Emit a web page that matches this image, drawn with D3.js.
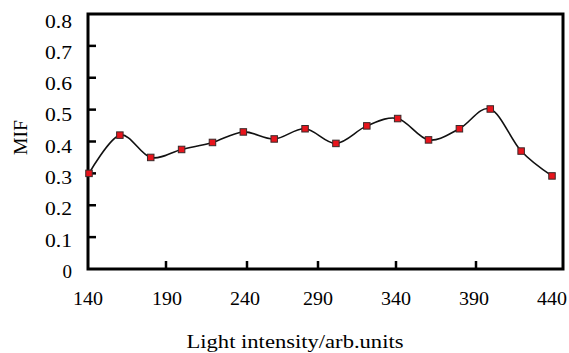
<!DOCTYPE html>
<html>
<head>
<meta charset="utf-8">
<script src="https://cdn.jsdelivr.net/npm/d3@7"></script>
<style>
  html, body { margin: 0; padding: 0; background: #fff; }
  svg { display: block; }
  text { font-family: "Liberation Serif", "DejaVu Serif", serif; fill: #000; }
</style>
</head>
<body>
<div id="chart"></div>
<script>
// ---- data ----
const lightIntensity = [140, 160, 180, 200, 220, 240, 260, 280, 300, 320, 340, 360, 380, 400, 420, 440];
const mifValues      = [0.30, 0.42, 0.35, 0.375, 0.397, 0.43, 0.408, 0.44, 0.394, 0.449, 0.472, 0.405, 0.44, 0.502, 0.37, 0.292];
const xTickLabels = [140, 190, 240, 290, 340, 390, 440];
const yTickLabels = [0, 0.1, 0.2, 0.3, 0.4, 0.5, 0.6, 0.7, 0.8];
const xTitle = "Light intensity/arb.units";
const yTitle = "MIF";

// ---- layout ----
const W = 569, H = 353;
const plotL = 88, plotR = 563, plotT = 14, plotB = 269;
const fs = 19;

const svg = d3.select("#chart").append("svg").attr("width", W).attr("height", H);

// data scales
const x = d3.scaleLinear().domain([140, 440]).range([89, 552]);
const y = d3.scaleLinear().domain([0, 0.8]).range([plotB, plotT]);

// axis scales (reference axis is not evenly spaced)
const xTickPos = d3.scaleLinear().domain(xTickLabels).range([plotL, 166, 247, 318, 396, 476, plotR]);
const xLabelPos = d3.scaleLinear().domain(xTickLabels).range([88, 167, 245, 318, 396, 474, 552]);
const yLabelPos = d3.scaleLinear().domain([0, 0.8]).range([271.5, 21]);

// inner ticks
const g = svg.append("g");
g.selectAll(".yt").data(yTickLabels.slice(1, -1)).enter().append("line")
  .attr("x1", plotL).attr("x2", plotL + 8)
  .attr("y1", d => y(d)).attr("y2", d => y(d))
  .attr("stroke", "#000").attr("stroke-width", 2.5);
g.selectAll(".xt").data(xTickLabels.slice(1, -1)).enter().append("line")
  .attr("x1", d => xTickPos(d)).attr("x2", d => xTickPos(d))
  .attr("y1", plotB).attr("y2", plotB - 8)
  .attr("stroke", "#000").attr("stroke-width", 2.5);

// frame
svg.append("rect")
  .attr("x", plotL).attr("y", plotT)
  .attr("width", plotR - plotL).attr("height", plotB - plotT)
  .attr("fill", "none").attr("stroke", "#000").attr("stroke-width", 3);

// tick labels
svg.selectAll(".ylab").data(yTickLabels).enter().append("text")
  .attr("x", 72).attr("y", d => yLabelPos(d))
  .attr("text-anchor", "end").attr("dominant-baseline", "central")
  .attr("font-size", fs)
  .each(function (d) {
    const t = d3.select(this).text(d === 0 ? "0" : d3.format(".1f")(d));
    if (d !== 0) t.attr("textLength", 27).attr("lengthAdjust", "spacingAndGlyphs");
  });
svg.selectAll(".xlab").data(xTickLabels).enter().append("text")
  .attr("x", d => xLabelPos(d)).attr("y", 305)
  .attr("text-anchor", "middle")
  .attr("font-size", fs)
  .attr("textLength", 30).attr("lengthAdjust", "spacingAndGlyphs")
  .text(d => d);

// titles
svg.append("text").attr("x", 295).attr("y", 348)
  .attr("text-anchor", "middle").attr("font-size", fs)
  .attr("textLength", 217).attr("lengthAdjust", "spacingAndGlyphs")
  .text(xTitle);
svg.append("text")
  .attr("transform", "translate(20.5,137.5) rotate(-90)")
  .attr("text-anchor", "middle").attr("dominant-baseline", "central")
  .attr("font-size", fs)
  .attr("textLength", 35).attr("lengthAdjust", "spacingAndGlyphs")
  .text(yTitle);

// line
const pts = lightIntensity.map((v, i) => [v, mifValues[i]]);
const line = d3.line().x(d => x(d[0])).y(d => y(d[1])).curve(d3.curveCardinal.tension(0));
svg.append("path").datum(pts)
  .attr("d", line).attr("fill", "none")
  .attr("stroke", "#111").attr("stroke-width", 1.6);

// markers
const s = 6.5;
svg.selectAll(".m").data(pts).enter().append("rect")
  .attr("x", d => x(d[0]) - s / 2).attr("y", d => y(d[1]) - s / 2)
  .attr("width", s).attr("height", s)
  .attr("fill", "#e8141c").attr("stroke", "#3a2a2a").attr("stroke-width", 1);
</script>
</body>
</html>
